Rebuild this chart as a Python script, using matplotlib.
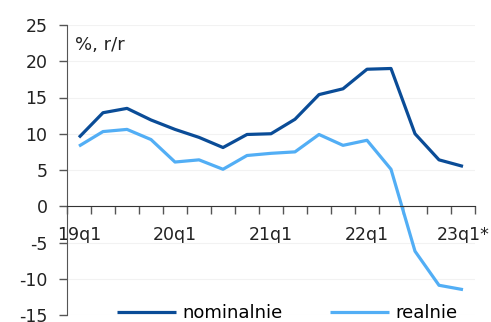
import numpy as np
import matplotlib
matplotlib.use('Agg')
import matplotlib.pyplot as plt
from matplotlib.ticker import FixedLocator, NullFormatter

# quarters 19q1 .. 23q1
quarters = ['19q1', '19q2', '19q3', '19q4',
            '20q1', '20q2', '20q3', '20q4',
            '21q1', '21q2', '21q3', '21q4',
            '22q1', '22q2', '22q3', '22q4',
            '23q1*']
# y/y growth, %
nominal = [9.5, 12.9, 13.5, 11.9, 10.6, 9.5, 8.1, 9.9, 10.0,
           12.0, 15.4, 16.2, 18.9, 19.0, 10.0, 6.4, 5.5]
real = [8.3, 10.3, 10.6, 9.2, 6.1, 6.4, 5.1, 7.0, 7.3,
        7.5, 9.9, 8.4, 9.1, 5.1, -6.2, -10.9, -11.5]
labelled = ['19q1', '20q1', '21q1', '22q1', '23q1*']

c_nom = '#0a4c97'
c_real = '#52aef5'

plt.rcParams['font.family'] = ['DejaVu Sans']
plt.rcParams['font.size'] = 12.5
plt.rcParams['axes.unicode_minus'] = False

fig = plt.figure(figsize=(4.91, 3.22), dpi=100)
ax = fig.add_axes([67/491, 7/322, 408/491, 290/322])

x = np.arange(len(quarters))
ax.plot(x, nominal, c=c_nom, lw=2.3, label='nominalnie', solid_capstyle='butt')
ax.plot(x, real, c=c_real, lw=2.3, label='realnie', solid_capstyle='butt')

ax.set_xlim(-0.5, len(quarters) - 0.5)
ax.set_ylim(-15, 25)
ax.set_yticks(np.arange(-15, 26, 5))
ax.grid(axis='y', color='#f2f2f2', lw=0.8)
ax.set_axisbelow(True)

# category axis: tick marks on boundaries, labels on centres
lab_pos = [quarters.index(q) for q in labelled]
ax.xaxis.set_major_locator(FixedLocator(lab_pos))
ax.set_xticklabels(labelled)
ax.xaxis.set_minor_locator(FixedLocator(np.arange(-0.5, len(quarters), 1)))
ax.xaxis.set_minor_formatter(NullFormatter())
ax.tick_params(axis='x', which='major', length=0, pad=14, labelsize=12.5, colors='#222222')
ax.tick_params(axis='x', which='minor', length=6, width=1, color='#555555', direction='out')
ax.tick_params(axis='y', length=6, width=1, pad=8, color='#555555', labelsize=12.5, labelcolor='#222222')

ax.spines['bottom'].set_position(('data', 0))
ax.spines['bottom'].set_color('#333333')
ax.spines['left'].set_color('#555555')
ax.spines['top'].set_visible(False)
ax.spines['right'].set_visible(False)

ax.text(0.02, 0.93, '%, r/r', transform=ax.transAxes, fontsize=13,
        color='#222222', va='center', ha='left')

fig.legend(loc='center', bbox_to_anchor=(0.585, 9/322), ncol=2, frameon=False,
           handlelength=3.3, columnspacing=2.6, handletextpad=0.35, fontsize=13)

plt.savefig('out.png', dpi=100)
plt.close()
